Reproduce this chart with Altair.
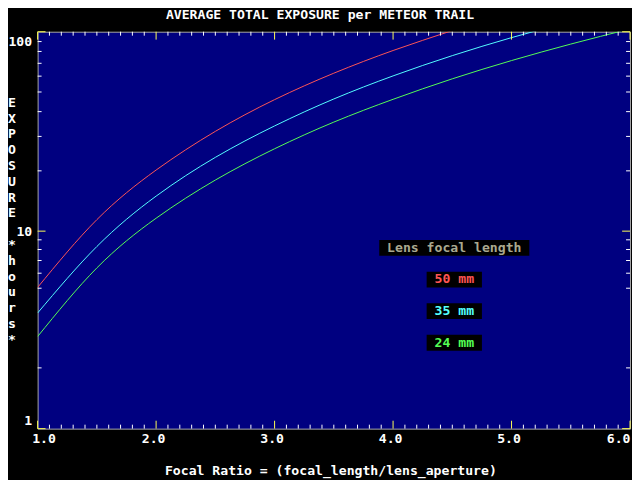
import altair as alt
import pandas as pd

# ---- data ----
focal_ratio = [1.0, 1.5, 2.0, 2.5, 3.0, 3.5, 4.0, 4.5, 5.0, 5.5, 6.0]
exposure_50mm = [5.05, 11.5, 21.0, 33.6, 49.4, 68.1, 89.7, 114.3]
exposure_35mm = [3.70, 8.3, 15.3, 24.5, 35.9, 49.8, 65.9, 84.3, 104.9, 127.7]
exposure_24mm = [2.78, 6.4, 11.7, 18.6, 27.2, 37.6, 49.6, 63.6, 79.4, 97.0, 116.6]
lens_labels = ["50 mm", "35 mm", "24 mm"]
lens_colors = ["#FF5555", "#55FFFF", "#55FF55"]

x_labels = [1, 2, 3, 4, 5, 6]
y_labels = [1, 10, 100]
x_minor_ticks = [round(1 + 0.1 * i, 1) for i in range(51) if i % 10 != 0]
y_minor_ticks = [100, 88.7, 76.8, 65.7, 54.2, 42.7, 31.6, 20.8, 9, 8, 7, 6, 5, 1.9]
Y_LO, Y_HI = 0.9085, 112.7
y_major_ticks = [Y_LO, 10, Y_HI]

W, H = 600, 402
FONT = "DejaVu Sans Mono"
FS = 13.3

rows = []
for lab, vals in zip(lens_labels, [exposure_50mm, exposure_35mm, exposure_24mm]):
    for fr, v in zip(focal_ratio, vals):
        rows.append({"fr": fr, "exp": v, "lens": lab})
df = pd.DataFrame(rows)

xs = alt.Scale(domain=[1, 6], nice=False, zero=False)
ys = alt.Scale(type="log", domain=[Y_LO, Y_HI], nice=False)

x_axis = alt.Axis(values=x_labels, format=".1f", grid=False, ticks=False, tickSize=0,
                  domain=False, labelColor="white", labelFont=FONT, labelFontSize=FS,
                  labelFontWeight="bold", labelPadding=3, labelFlush=True,
                  labelFlushOffset=3, labelOffset=-3, title=None, labelAngle=0)
y_axis = alt.Axis(values=y_labels, format="d", grid=False, ticks=False, tickSize=0,
                  domain=False, labelColor="white", labelFont=FONT, labelFontSize=FS,
                  labelFontWeight="bold", labelPadding=6, title=None)

lines = alt.Chart(df).mark_line(strokeWidth=1, clip=True, interpolate="natural").encode(
    x=alt.X("fr:Q", scale=xs, axis=x_axis),
    y=alt.Y("exp:Q", scale=ys, axis=y_axis),
    color=alt.Color("lens:N", scale=alt.Scale(domain=lens_labels, range=lens_colors), legend=None),
    detail="lens:N",
)

xmin_df = pd.DataFrame({"v": x_minor_ticks})
xmaj_df = pd.DataFrame({"v": x_labels})
ymin_df = pd.DataFrame({"v": y_minor_ticks})
ymaj_df = pd.DataFrame({"v": y_major_ticks})

def xticks(d, color, length):
    base = alt.Chart(d).mark_rule(color=color, strokeWidth=1)
    top = base.encode(x=alt.X("v:Q", scale=xs), y=alt.value(0), y2=alt.value(length))
    bot = base.encode(x=alt.X("v:Q", scale=xs), y=alt.value(H), y2=alt.value(H - length))
    return [top, bot]

def yticks(d, color, length):
    base = alt.Chart(d).mark_rule(color=color, strokeWidth=1)
    left = base.encode(y=alt.Y("v:Q", scale=ys), x=alt.value(0), x2=alt.value(length))
    right = base.encode(y=alt.Y("v:Q", scale=ys), x=alt.value(W), x2=alt.value(W - length))
    return [left, right]

tick_layers = (xticks(xmin_df, "white", 4) + xticks(xmaj_df, "#FFFF55", 8)
               + yticks(ymin_df, "white", 4) + yticks(ymaj_df, "#FFFF55", 8))

def txt(s, x, y, color="white", align="center", baseline="top", **kw):
    return alt.Chart(pd.DataFrame({"a": [0]})).mark_text(
        text=s, font=FONT, fontSize=FS, fontWeight="bold", color=color,
        align=align, baseline=baseline, **kw
    ).encode(x=alt.value(x), y=alt.value(y))

title = txt("AVERAGE TOTAL EXPOSURE per METEOR TRAIL", 286, -24)
xtitle = txt("Focal Ratio = (focal_length/lens_aperture)", 297, 438)
ytitle1 = txt(list("EXPOSURE"), -26, 65, lineHeight=16)
ytitle2 = txt(list("*hours*"), -26, 65 + 9 * 16, lineHeight=16)

def box(x1, x2, y1, y2):
    return alt.Chart(pd.DataFrame({"a": [0]})).mark_rect(color="black").encode(
        x=alt.value(x1), x2=alt.value(x2), y=alt.value(y1), y2=alt.value(y2))

legend_layers = [box(346, 498, 211, 227), txt("Lens focal length", 422, 219, color="#AAA98F", baseline="middle")]
for i, (lab, col) in enumerate(zip(lens_labels, lens_colors)):
    y0 = 243 + 32 * i
    legend_layers.append(box(394, 450, y0, y0 + 16))
    legend_layers.append(txt(lab, 422, y0 + 8, color=col, baseline="middle"))

chart = alt.layer(lines, *tick_layers, *legend_layers, title, xtitle, ytitle1, ytitle2).properties(
    width=W, height=H,
    background="black",
    padding={"left": 30, "top": 21, "right": 2, "bottom": 49},
    autosize=alt.AutoSizeParams(type="none"),
).configure_view(fill="#000080", stroke="#A8A8A8", strokeWidth=1)

chart.save("out.html", embed_options={"renderer": "svg", "actions": False})
